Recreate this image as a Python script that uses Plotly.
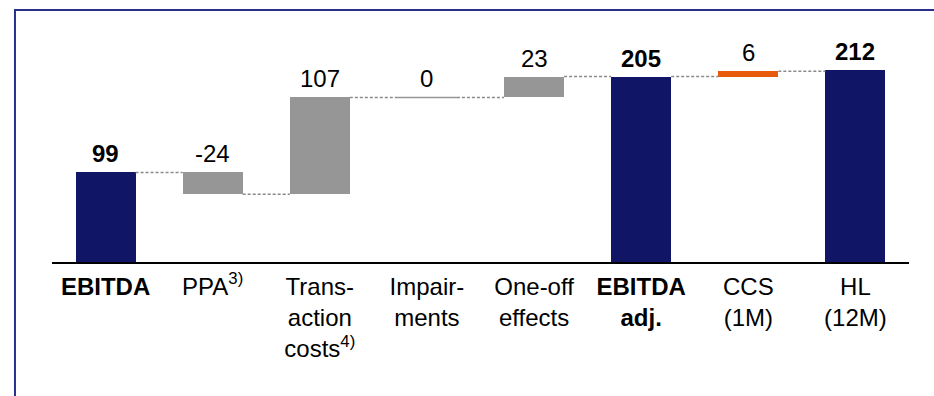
import plotly.graph_objects as go

# EBITDA bridge (EUR m)
categories = ["<b>EBITDA</b>", "PPA<sup>3)</sup>", "Trans-<br>action<br>costs<sup>4)</sup>",
              "Impair-<br>ments", "One-off<br>effects", "<b>EBITDA<br>adj.</b>",
              "CCS<br>(1M)", "HL<br>(12M)"]
values = [99, -24, 107, 0, 23, 205, 6, 212]
measures = ["total", "relative", "relative", "relative", "relative", "total", "relative", "total"]
bar_kind = ["total", "adjust", "adjust", "adjust", "adjust", "total", "addon", "total"]
value_labels = ["<b>99</b>", "-24", "107", "0", "23", "<b>205</b>", "6", "<b>212</b>"]

NAVY = "#111566"
GREY = "#969696"
ORANGE = "#E85A0C"
colors = {"total": NAVY, "adjust": GREY, "addon": ORANGE}
FONT = "Liberation Sans, Arial, sans-serif"
FONT_SIZE = 24
HALF = 0.28  # half bar width in category units

# running totals -> bar bases and heights
bases, heights, levels = [], [], []
running = 0
for v, m in zip(values, measures):
    if m == "total":
        base, h = 0, v
        running = v
    else:
        base, h = running, v
        running = running + v
    bases.append(base)
    heights.append(h)
    levels.append(running)

xs = list(range(len(values)))
fig = go.Figure()
fig.add_trace(go.Bar(
    x=xs, y=heights, base=bases, width=2 * HALF,
    marker=dict(color=[colors[k] for k in bar_kind], line=dict(width=0)),
    hoverinfo="skip", showlegend=False,
))

# dashed connectors between neighbouring bars
cx, cy = [], []
for i in range(len(values) - 1):
    cx += [i + HALF, i + 1 - HALF, None]
    cy += [levels[i], levels[i], None]
fig.add_trace(go.Scatter(x=cx, y=cy, mode="lines",
                         line=dict(color="#8a8a8a", width=1.5, dash="3px,2px"),
                         hoverinfo="skip", showlegend=False))

# zero-height steps drawn as a flat grey line
zx, zy = [], []
for i, h in enumerate(heights):
    if h == 0:
        zx += [i - HALF, i + HALF, None]
        zy += [bases[i], bases[i], None]
fig.add_trace(go.Scatter(x=zx, y=zy, mode="lines",
                         line=dict(color=GREY, width=1.5),
                         hoverinfo="skip", showlegend=False))

annotations = []
for i in xs:
    top = max(bases[i], bases[i] + heights[i])
    annotations.append(dict(x=i, y=top, text=value_labels[i], showarrow=False,
                            yanchor="bottom", yshift=3,
                            font=dict(family=FONT, size=FONT_SIZE, color="black")))

fig.update_layout(
    width=934, height=396,
    margin=dict(l=52, r=25, t=54, b=134),
    paper_bgcolor="white", plot_bgcolor="white",
    bargap=0,
    annotations=annotations,
    xaxis=dict(range=[-0.5, 7.5], tickmode="array", tickvals=xs, ticktext=categories,
               showline=True, linecolor="black", linewidth=1.5, showgrid=False,
               zeroline=False, ticks="", ticklabelstandoff=2,
               tickfont=dict(family=FONT, size=FONT_SIZE, color="black")),
    yaxis=dict(range=[0, 230], visible=False, showgrid=False, zeroline=False),
    shapes=[dict(type="path", xref="paper", yref="paper",
                 path="M -0.0432,-0.65 L -0.0432,1.2115 L 1.03,1.2115",
                 line=dict(color="#262F8C", width=2))],
)

fig.write_html("out.html")
